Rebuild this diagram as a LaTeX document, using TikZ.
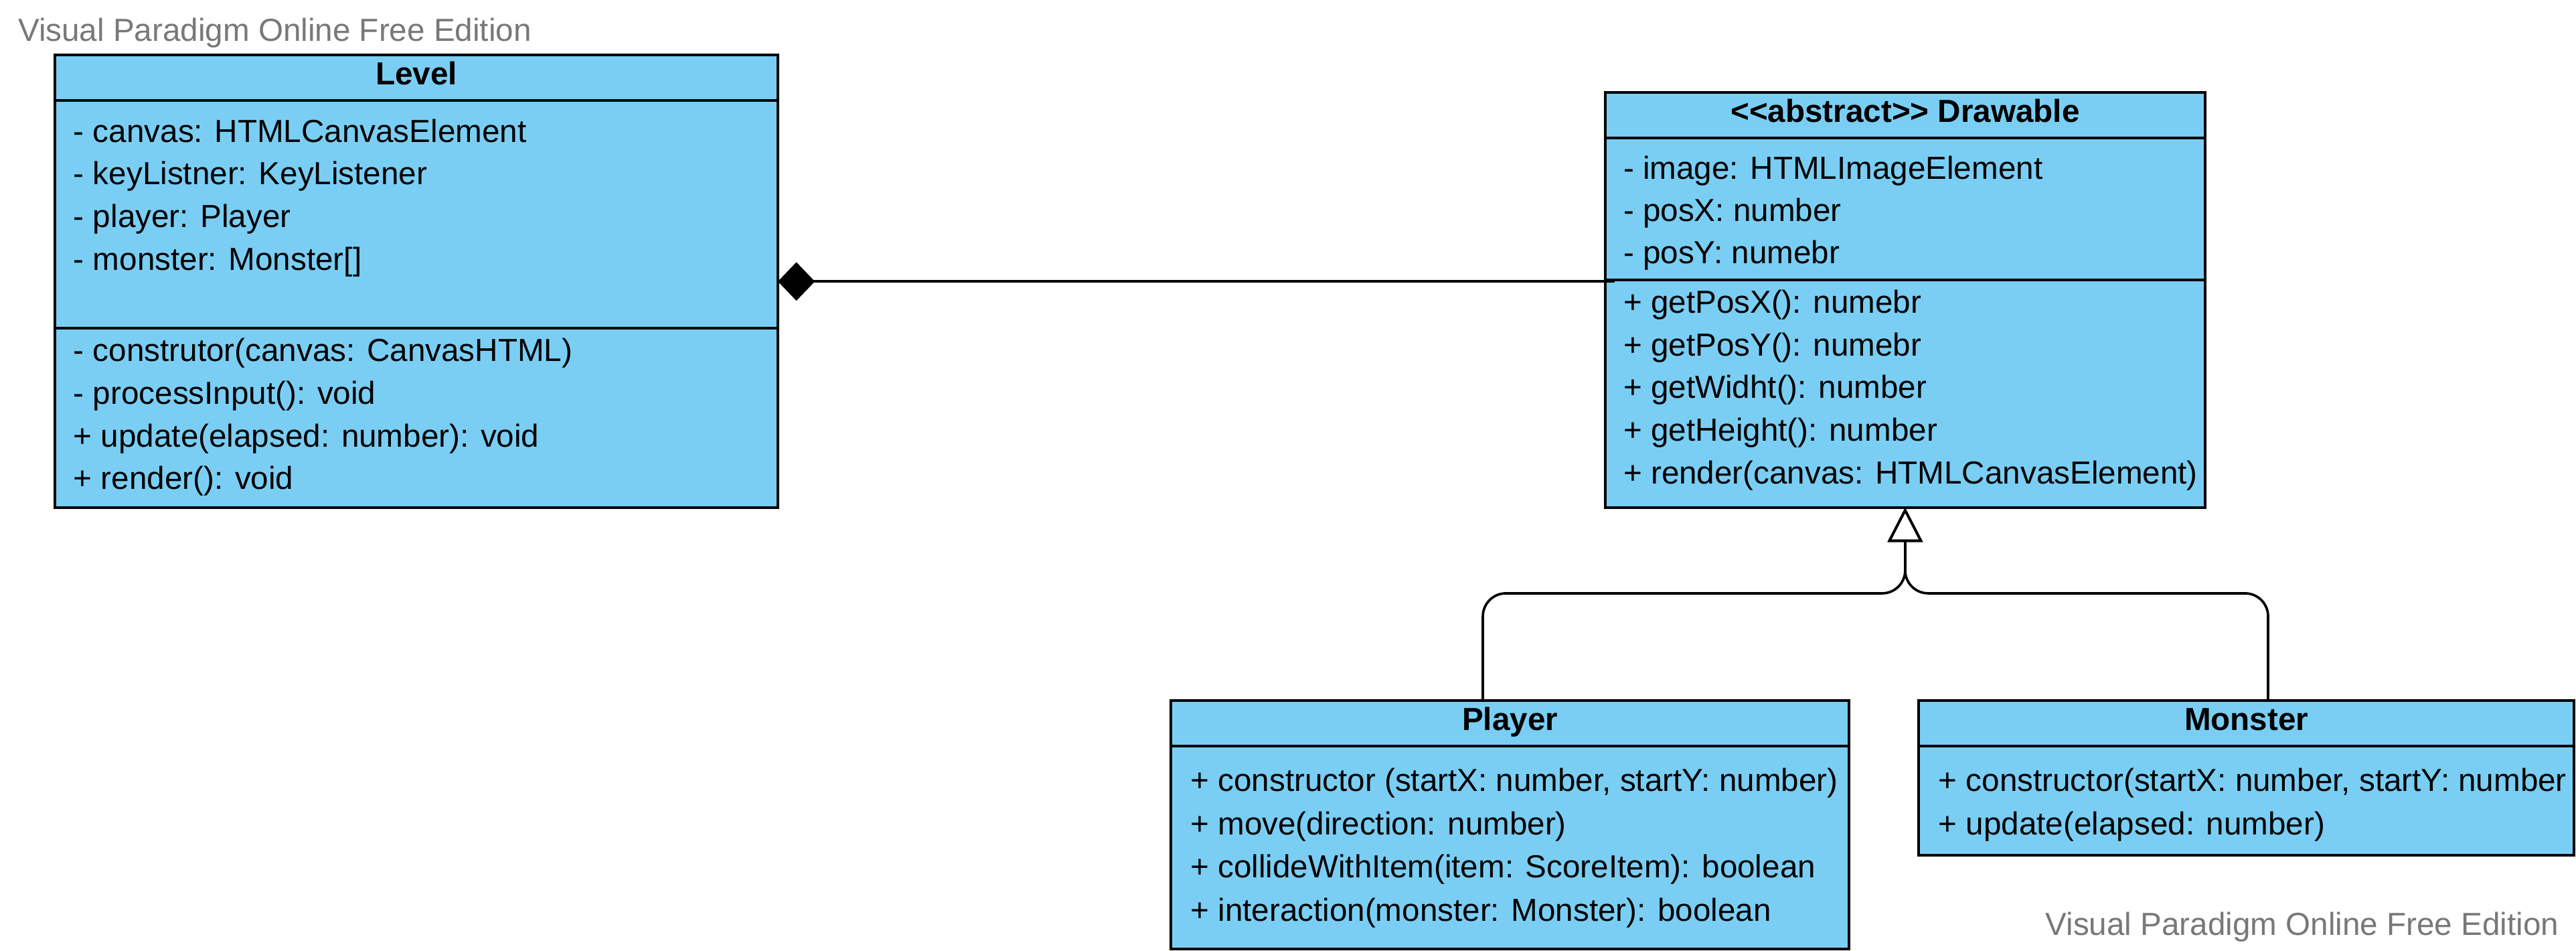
\documentclass[tikz,border=0pt]{standalone}
\usepackage{fontspec}
\setmainfont{Liberation Sans}
\usetikzlibrary{arrows.meta}
\definecolor{umlblue}{RGB}{122,206,244}
\definecolor{wmgray}{RGB}{120,120,120}
\tikzset{
  classbox/.style={draw=black,line width=1.6pt,fill=umlblue,inner sep=0pt,outer sep=0pt},
  divider/.style={draw=black,line width=1.6pt},
  member/.style={anchor=base west,inner sep=0pt,font=\fontsize{19.4}{23}\selectfont},
  ctitle/.style={anchor=base,inner sep=0pt,font=\fontsize{19.4}{23}\selectfont\bfseries},
  link/.style={draw=black,line width=1.5pt},
  watermark/.style={inner sep=0pt,text=wmgray,font=\fontsize{19.4}{23}\selectfont},
}
\begin{document}
\begin{tikzpicture}[x=1pt,y=-1pt]
\useasboundingbox (0,0) rectangle (1568,578.6);

% watermarks
\node[watermark,anchor=base west] (wmtop) at (10.9,25.1) {Visual Paradigm Online Free Edition};
\node[watermark,anchor=base east] (wmbot) at (1557.7,569.1) {Visual Paradigm Online Free Edition};

% ---------- Level ----------
\node[classbox,minimum width=440pt,minimum height=275.5pt] (level) at (253.5,171.25) {};
\draw[divider] ([yshift=-27.5pt]level.north west) -- ([yshift=-27.5pt]level.north east);
\draw[divider] ([yshift=-166.2pt]level.north west) -- ([yshift=-166.2pt]level.north east);
\node[ctitle] (levelT) at (253.5,51.7) {Level};
\node[member] (lv1) at (44.6,86.4) {- canvas: HTMLCanvasElement};
\node[member] (lv2) at (44.6,112.4) {- keyListner: KeyListener};
\node[member] (lv3) at (44.6,138.4) {- player: Player};
\node[member] (lv4) at (44.6,164.3) {- monster: Monster[]};
\node[member] (lv5) at (44.6,220.0) {- construtor(canvas: CanvasHTML)};
\node[member] (lv6) at (44.6,245.9) {- processInput(): void};
\node[member] (lv7) at (44.6,271.8) {+ update(elapsed: number): void};
\node[member] (lv8) at (44.6,297.7) {+ render(): void};

% ---------- Drawable ----------
\node[classbox,minimum width=365.3pt,minimum height=252.7pt] (drawable) at (1159.65,182.45) {};
\draw[divider] ([yshift=-28pt]drawable.north west) -- ([yshift=-28pt]drawable.north east);
\draw[divider] ([yshift=-114.1pt]drawable.north west) -- ([yshift=-114.1pt]drawable.north east);
\node[ctitle] (drawT) at (1159.65,74.4) {<{}<abstract>{}> Drawable};
\node[member] (dr1) at (988,109.0) {- image: HTMLImageElement};
\node[member] (dr2) at (988,134.8) {- posX: number};
\node[member] (dr3) at (988,160.5) {- posY: numebr};
\node[member] (dr4) at (988,190.4) {+ getPosX(): numebr};
\node[member] (dr5) at (988,216.4) {+ getPosY(): numebr};
\node[member] (dr6) at (988,242.4) {+ getWidht(): number};
\node[member] (dr7) at (988,268.4) {+ getHeight(): number};
\node[member] (dr8) at (988,294.2) {+ render(canvas: HTMLCanvasElement)};

% ---------- Player ----------
\node[classbox,minimum width=412.8pt,minimum height=151.2pt] (player) at (919.1,501.9) {};
\draw[divider] ([yshift=-27.6pt]player.north west) -- ([yshift=-27.6pt]player.north east);
\node[ctitle] (playerT) at (919.1,444.4) {Player};
\node[member] (pl1) at (724.5,481.5) {+ constructor (startX: number, startY: number)};
\node[member] (pl2) at (724.5,507.8) {+ move(direction: number)};
\node[member] (pl3) at (724.5,534.0) {+ collideWithItem(item: ScoreItem): boolean};
\node[member] (pl4) at (724.5,560.3) {+ interaction(monster: Monster): boolean};

% ---------- Monster ----------
\node[classbox,minimum width=398.7pt,minimum height=93.9pt] (monster) at (1367.35,473.25) {};
\draw[divider] ([yshift=-27.6pt]monster.north west) -- ([yshift=-27.6pt]monster.north east);
\node[ctitle] (monsterT) at (1367.35,444.4) {Monster};
\node[member] (mo1) at (1179.8,481.5) {+ constructor(startX: number, startY: number};
\node[member] (mo2) at (1179.8,507.8) {+ update(elapsed: number)};

% ---------- composition Level <>-- Drawable ----------
\coordinate (dwy) at (drawable.west |- level.east);
\coordinate (compEnd) at ([xshift=6pt]dwy);
\draw[link,{Diamond[length=22.5pt,width=23.5pt]}-] (level.east) -- (compEnd);

% ---------- generalization Player, Monster --|> Drawable ----------
\coordinate (pTop) at ([xshift=-16.5pt]player.north);
\coordinate (mTop) at ([xshift=13.2pt]monster.north);
\coordinate (genY) at (1159.65,361);
\draw[link,rounded corners=14pt,-{Triangle[open,length=21pt,width=21.3pt]}] (pTop) |- (genY) -- (drawable.south);
\draw[link,rounded corners=14pt,-{Triangle[open,length=21pt,width=21.3pt]}] (mTop) |- (genY) -- (drawable.south);
\end{tikzpicture}
\end{document}
